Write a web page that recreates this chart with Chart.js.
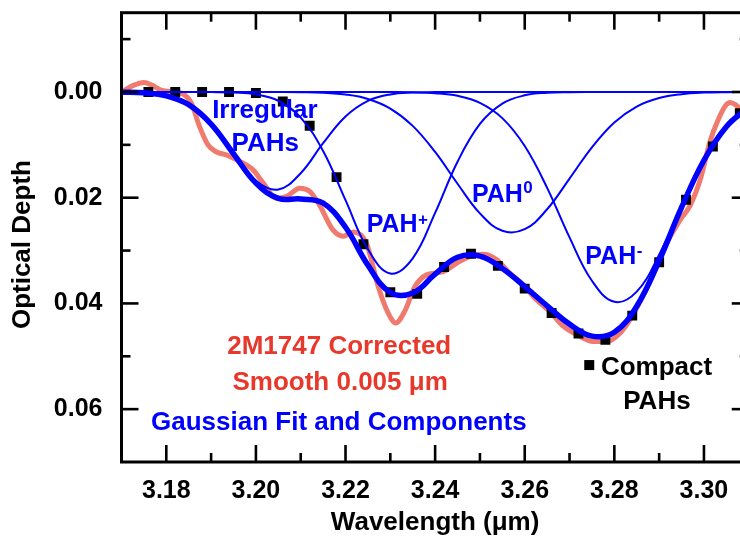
<!DOCTYPE html>
<html>
<head>
<meta charset="utf-8">
<script src="https://cdn.jsdelivr.net/npm/chart.js@4.4.1/dist/chart.umd.min.js"></script>
<style>
html,body{margin:0;padding:0;width:740px;height:539px;overflow:hidden;background:#ffffff;}
#wrap{width:760px;height:539px;}
canvas{display:block;}
</style>
</head>
<body>
<div id="wrap"><canvas id="c" width="760" height="539" style="width:760px;height:539px"></canvas></div>
<script>
// ---------- data ----------
const wavelength = [3.170, 3.175, 3.180, 3.185, 3.190, 3.195, 3.200, 3.205, 3.210, 3.215,
                    3.220, 3.225, 3.230, 3.235, 3.240, 3.245, 3.250, 3.255, 3.260, 3.265,
                    3.270, 3.275, 3.280, 3.285, 3.290, 3.295, 3.300, 3.305, 3.310];

const irregularPAHs = [0.00003, 0.00016, 0.00072, 0.0024, 0.00605, 0.01158, 0.01678, 0.01844, 0.01536, 0.00969,
                       0.00464, 0.00168, 0.00046, 0.0001, 0.00002, 0, 0, 0, 0, 0,
                       0, 0, 0, 0, 0, 0, 0, 0, 0];

const pahPlus = [0, 0, 0, 0, 0.00002, 0.0001, 0.00045, 0.00166, 0.00484, 0.01117,
                 0.02047, 0.02976, 0.03434, 0.03146, 0.02287, 0.01319, 0.00604, 0.00219, 0.00063, 0.00014,
                 0.00003, 0, 0, 0, 0, 0, 0, 0, 0];

const pahNeutral = [0, 0, 0, 0, 0, 0, 0, 0.00001, 0.00004, 0.00015,
                    0.00048, 0.00132, 0.00313, 0.00641, 0.01135, 0.01736, 0.02297, 0.02626, 0.02596, 0.02218,
                    0.01638, 0.01046, 0.00577, 0.00275, 0.00114, 0.00041, 0.00012, 0.00003, 0.00001];

const pahMinus = [0, 0, 0, 0, 0, 0, 0, 0, 0, 0,
                  0, 0, 0.00001, 0.00006, 0.00022, 0.00072, 0.00204, 0.00494, 0.01023, 0.01813,
                  0.02751, 0.03572, 0.0397, 0.03777, 0.03077, 0.02144, 0.0128, 0.00654, 0.00286];

const gaussianFit = [0.00003, 0.00016, 0.00072, 0.0024, 0.00607, 0.01168, 0.01723, 0.02011, 0.02024, 0.02101,
                     0.02559, 0.03276, 0.03794, 0.03803, 0.03446, 0.03127, 0.03105, 0.03339, 0.03682, 0.04045,
                     0.04392, 0.04618, 0.04547, 0.04052, 0.03191, 0.02185, 0.01292, 0.00657, 0.00287];

const redWavelength = [3.1700, 3.1725, 3.1750, 3.1770, 3.1790, 3.1820, 3.1840, 3.1856, 3.1874, 3.1893,
                       3.1911, 3.1934, 3.1956, 3.1993, 3.2016, 3.2046, 3.2068, 3.2098, 3.2120, 3.2142,
                       3.2172, 3.2195, 3.2217, 3.2247, 3.2273, 3.2295, 3.2312, 3.2332, 3.2355, 3.2381,
                       3.2418, 3.2448, 3.2478, 3.2508, 3.2537, 3.2567, 3.2597, 3.2626, 3.2656, 3.2686,
                       3.2716, 3.2753, 3.2783, 3.2813, 3.2839, 3.2869, 3.2895, 3.2917, 3.2947, 3.2969,
                       3.2992, 3.3014, 3.3033, 3.3048, 3.3059, 3.3070, 3.3081, 3.3100];
const redDepth = [0.0000, -0.0012, -0.0018, -0.0012, -0.0003, 0.0000, 0.0005, 0.0021, 0.0065, 0.0100,
                  0.0113, 0.0119, 0.0128, 0.0147, 0.0172, 0.0201, 0.0198, 0.0182, 0.0188, 0.0214,
                  0.0261, 0.0273, 0.0265, 0.0287, 0.0368, 0.0418, 0.0437, 0.0415, 0.0368, 0.0346,
                  0.0340, 0.0324, 0.0311, 0.0307, 0.0317, 0.0343, 0.0365, 0.0393, 0.0415, 0.0443,
                  0.0459, 0.0472, 0.0472, 0.0456, 0.0425, 0.0377, 0.0330, 0.0286, 0.0242, 0.0215,
                  0.0165, 0.0092, 0.0050, 0.0026, 0.0020, 0.0024, 0.0032, 0.0045];

const compactWavelength = [3.176, 3.182, 3.188, 3.194, 3.200, 3.206, 3.212, 3.218, 3.224, 3.230,
                           3.236, 3.242, 3.248, 3.254, 3.260, 3.266, 3.272, 3.278, 3.284, 3.290,
                           3.296, 3.302, 3.308];
const compactDepth = [0.0000, 0.0000, 0.0000, 0.0000, 0.0002, 0.0018, 0.0064, 0.0161, 0.0288, 0.0379,
                      0.0382, 0.0331, 0.0306, 0.0329, 0.0372, 0.0418, 0.0457, 0.0469, 0.0423, 0.0322,
                      0.0204, 0.0103, 0.0040];

const xMajorTicks = [3.18, 3.20, 3.22, 3.24, 3.26, 3.28, 3.30];
const xMinorTicks = [3.19, 3.21, 3.23, 3.25, 3.27, 3.29];
const yMajorTicks = [0.00, 0.02, 0.04, 0.06];
const yMinorTicks = [-0.01, 0.01, 0.03, 0.05];

// ---------- styles ----------
const BLUE = '#0000FF';
const RED_TEXT = '#E8382C';
const RED_LINE = '#F07A6E';
const FONT = '"Liberation Sans", Arial, Helvetica, sans-serif';
Chart.defaults.font.family = FONT;
Chart.defaults.color = '#000';

const toXY = (xs, ys) => xs.map((x, i) => ({x: x, y: ys[i]}));

const annotations = [
  {text: 'Irregular', x: 3.2020, y: 0.00495, color: BLUE, size: 26},
  {text: 'PAHs', x: 3.2021, y: 0.01108, color: BLUE, size: 26},
  {text: 'PAH', sup: '+', rise: 7, x: 3.2304, y: 0.02658, color: BLUE, size: 25},
  {text: 'PAH', sup: '0', rise: 8.4, x: 3.2539, y: 0.02072, color: BLUE, size: 25},
  {text: 'PAH', sup: '-', rise: 8, x: 3.2792, y: 0.0325, color: BLUE, size: 25},
  {text: '2M1747 Corrected', x: 3.2186, y: 0.04958, color: RED_TEXT, size: 26},
  {text: 'Smooth 0.005 \u03bcm', x: 3.2188, y: 0.05635, color: RED_TEXT, size: 26},
  {text: 'Gaussian Fit and Components', x: 3.2185, y: 0.06388, color: BLUE, size: 26},
  {text: 'Compact', x: 3.2770, y: 0.05361, color: '#000', size: 26, align: 'left'},
  {text: 'PAHs', x: 3.2895, y: 0.0600, color: '#000', size: 26}
];
const legendSquare = {x: 3.2744, y: 0.05166, size: 10};

const framePlugin = {
  id: 'frameTicks',
  afterDraw(chart) {
    const {ctx, chartArea: a, scales: {x, y}} = chart;
    ctx.save();
    ctx.strokeStyle = '#000';
    ctx.lineWidth = 3;
    ctx.strokeRect(a.left, a.top, a.right - a.left, a.bottom - a.top);
    ctx.lineWidth = 2.6;
    const seg = (x1, y1, x2, y2) => { ctx.beginPath(); ctx.moveTo(x1, y1); ctx.lineTo(x2, y2); ctx.stroke(); };
    const xt = (vals, len) => vals.forEach(v => {
      const p = x.getPixelForValue(v);
      seg(p, a.bottom, p, a.bottom - len);
      seg(p, a.top, p, a.top + len);
    });
    const yt = (vals, len) => vals.forEach(v => {
      const p = y.getPixelForValue(v);
      seg(a.left, p, a.left + len, p);
      seg(a.right, p, a.right - len, p);
    });
    xt(xMajorTicks, 17); xt(xMinorTicks, 9);
    yt(yMajorTicks, 17); yt(yMinorTicks, 9);
    ctx.restore();
  },
  afterDatasetsDraw(chart) {
    const {ctx, scales: {x, y}} = chart;
    ctx.save();
    ctx.textBaseline = 'alphabetic';
    annotations.forEach(t => {
      const px = x.getPixelForValue(t.x), py = y.getPixelForValue(t.y);
      ctx.fillStyle = t.color;
      ctx.font = 'bold ' + t.size + 'px ' + FONT;
      ctx.textAlign = t.align || 'center';
      ctx.fillText(t.text, px, py);
      if (t.sup) {
        const w = ctx.measureText(t.text).width;
        const right = (t.align === 'left') ? px + w : px + w / 2;
        ctx.font = 'bold 17px ' + FONT;
        ctx.textAlign = 'left';
        ctx.fillText(t.sup, right + 0.5, py - t.rise);
      }
    });
    const sx = x.getPixelForValue(legendSquare.x), sy = y.getPixelForValue(legendSquare.y);
    ctx.fillStyle = '#000';
    ctx.fillRect(sx - legendSquare.size / 2, sy - legendSquare.size / 2, legendSquare.size, legendSquare.size);
    ctx.restore();
  }
};

new Chart(document.getElementById('c'), {
  type: 'line',
  data: {
    datasets: [
      {label: 'Gaussian Fit', data: toXY(wavelength, gaussianFit), borderColor: BLUE, borderWidth: 5.5,
       pointRadius: 0, tension: 0.4, order: 1},
      {label: 'Irregular PAHs', data: toXY(wavelength, irregularPAHs), borderColor: BLUE, borderWidth: 2,
       pointRadius: 0, tension: 0.4, order: 2},
      {label: 'PAH+', data: toXY(wavelength, pahPlus), borderColor: BLUE, borderWidth: 2,
       pointRadius: 0, tension: 0.4, order: 2},
      {label: 'PAH0', data: toXY(wavelength, pahNeutral), borderColor: BLUE, borderWidth: 2,
       pointRadius: 0, tension: 0.4, order: 2},
      {label: 'PAH-', data: toXY(wavelength, pahMinus), borderColor: BLUE, borderWidth: 2,
       pointRadius: 0, tension: 0.4, order: 2},
      {label: 'Compact PAHs', data: toXY(compactWavelength, compactDepth), showLine: false,
       pointStyle: 'rect', pointRadius: 7, pointBackgroundColor: '#000', pointBorderWidth: 0,
       pointBorderColor: '#000', order: 3},
      {label: '2M1747 Corrected', data: toXY(redWavelength, redDepth), borderColor: RED_LINE, borderWidth: 5,
       pointRadius: 0, cubicInterpolationMode: 'monotone', order: 4}
    ]
  },
  options: {
    responsive: false,
    animation: false,
    devicePixelRatio: 1,
    layout: {padding: {left: 0, top: 12.7, right: 11.25, bottom: 0}},
    plugins: {legend: {display: false}, tooltip: {enabled: false}},
    scales: {
      x: {
        type: 'linear', min: 3.17, max: 3.31,
        grid: {display: false, drawTicks: false}, border: {display: false},
        afterBuildTicks: s => { s.ticks = xMajorTicks.map(v => ({value: v})); },
        ticks: {padding: 14, maxRotation: 0, autoSkip: false, color: '#000',
                font: {size: 25, weight: 'bold'}, callback: v => Number(v).toFixed(2)},
        title: {display: true, text: 'Wavelength (\u03bcm)', color: '#000',
                font: {size: 26, weight: 'bold'}, padding: {top: 0, bottom: 1}},
        afterFit: s => { s.height = 77; s.paddingLeft = 0; s.paddingRight = 0; s.paddingTop = 0; s.paddingBottom = 0; }
      },
      y: {
        type: 'linear', reverse: true, min: -0.015, max: 0.07,
        grid: {display: false, drawTicks: false}, border: {display: false},
        afterBuildTicks: s => { s.ticks = yMajorTicks.map(v => ({value: v})); },
        ticks: {padding: 19, color: '#000', font: {size: 25, weight: 'bold'},
                callback: v => Number(v).toFixed(2)},
        title: {display: true, text: 'Optical Depth\u00a0\u00a0', color: '#000',
                font: {size: 26, weight: 'bold'}, padding: {top: 7, bottom: 0}},
        afterFit: s => { s.width = 121.5; s.paddingTop = 0; s.paddingBottom = 0; s.paddingLeft = 0; s.paddingRight = 0; }
      }
    }
  },
  plugins: [framePlugin]
});
</script>
</body>
</html>
